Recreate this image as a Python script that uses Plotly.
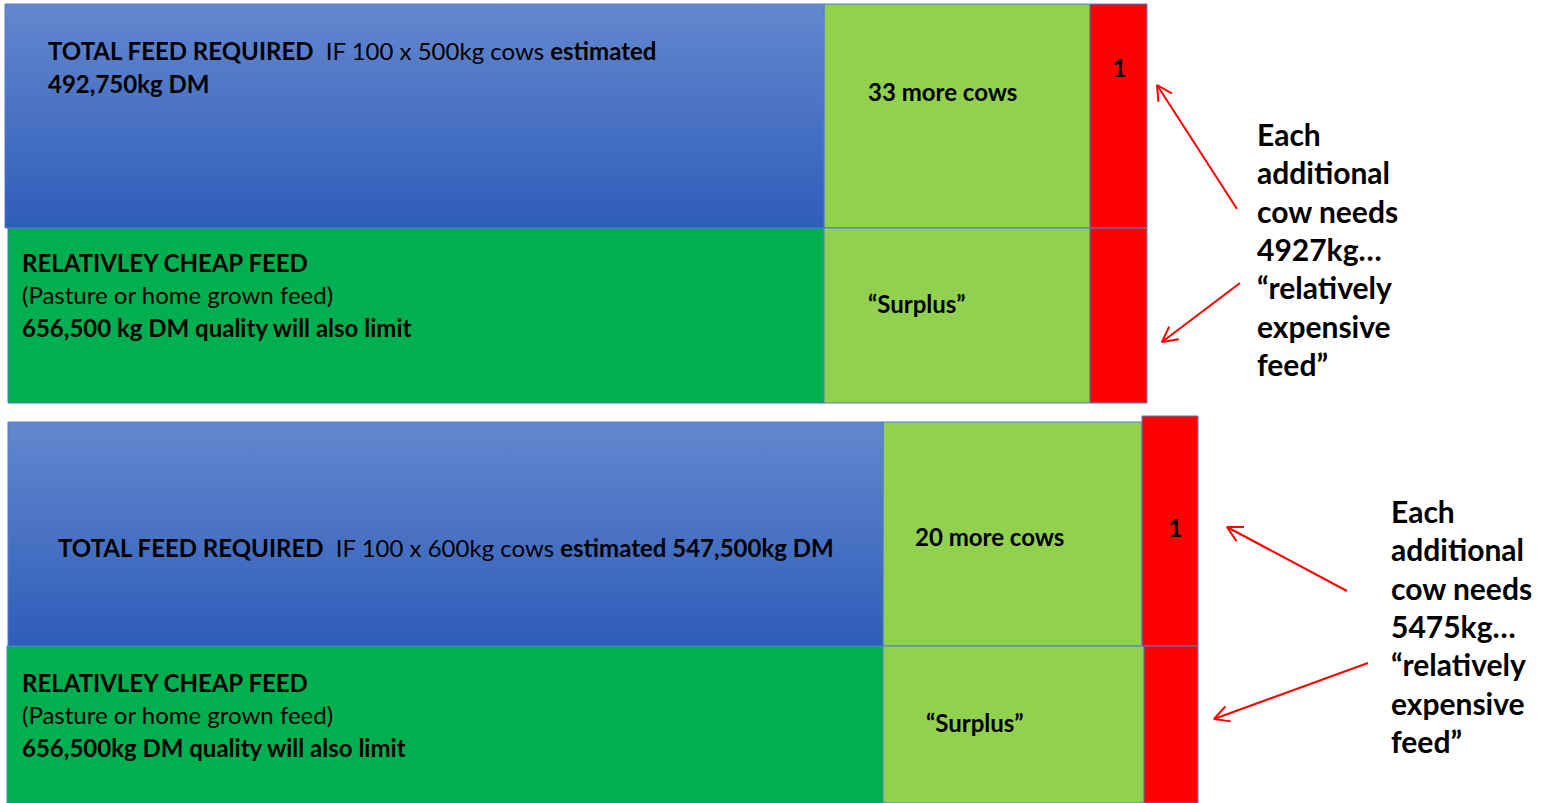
import numpy as np
import plotly.graph_objects as go

# ---------------- data ----------------
row_names = ["500kg: total feed required", "500kg: relatively cheap feed",
             "600kg: total feed required", "600kg: relatively cheap feed"]
main_len = [819, 816, 875, 876]        # blue / green segment lengths
surplus_len = [266, 266, 259, 261]     # light-green "surplus" segment lengths
extra_len = [57, 57, 56, 54]           # red "relatively expensive" segment lengths

main_text = [
    ["<b>TOTAL FEED REQUIRED</b>\u00a0 IF 100 x 500kg cows <b>estimated</b>", "<b>492,750kg DM</b>"],
    ["<b>RELATIVLEY CHEAP FEED</b>", "(Pasture or home grown feed)", "<b>656,500 kg DM quality will also limit</b>"],
    ["<b>TOTAL FEED REQUIRED</b>\u00a0 IF 100 x 600kg cows <b>estimated 547,500kg DM</b>"],
    ["<b>RELATIVLEY CHEAP FEED</b>", "(Pasture or home grown feed)", "<b>656,500kg DM quality will also limit</b>"],
]
surplus_text = ["<b>33 more cows</b>", "<b>\u201cSurplus\u201d</b>", "<b>20 more cows</b>", "<b>\u201cSurplus\u201d</b>"]
extra_text = ["<b>1</b>", "", "<b>1</b>", ""]
side_text = [
    ["Each", "additional", "cow needs", "4927kg\u2026", "\u201crelatively", "expensive", "feed\u201d"],
    ["Each", "additional", "cow needs", "5475kg\u2026", "\u201crelatively", "expensive", "feed\u201d"],
]

# ---------------- layout geometry ----------------
W, H = 1546, 803
row_start = [5, 8, 8, 7]
row_top = [4, 228, 422, 646]
row_bot = [228, 403, 646, 803]
extra_top = [4, 228, 416, 646]
is_total = [True, False, True, False]

BLUE_TOP, BLUE_BOT = "#6487CF", "#2E5DB8"
GREEN = "#00B050"
LIGHT = "#92D050"
RED = "#FF0000"
EDGE = "#4F7FCC"
FONT = "Lato"

fig = go.Figure()

# blue gradient "total feed" rows
for i in range(4):
    if not is_total[i]:
        continue
    x0, x1 = row_start[i], row_start[i] + main_len[i]
    y0, y1 = row_top[i], row_bot[i]
    fig.add_trace(go.Scatter(
        x=[x0, x1, x1, x0, x0], y=[y0, y0, y1, y1, y0], mode="lines",
        fill="toself", line=dict(color=EDGE, width=1),
        fillgradient=dict(type="vertical", start=y0, stop=y1,
                          colorscale=[[0, BLUE_TOP], [1, BLUE_BOT]]),
        hoverinfo="skip", showlegend=False))

# green "cheap feed" rows
cheap = [i for i in range(4) if not is_total[i]]
fig.add_trace(go.Bar(
    orientation="h",
    y=[(row_top[i] + row_bot[i]) / 2 for i in cheap],
    width=[row_bot[i] - row_top[i] for i in cheap],
    base=[row_start[i] for i in cheap],
    x=[main_len[i] for i in cheap],
    marker=dict(color=GREEN, line=dict(color=EDGE, width=1)),
    hoverinfo="skip", showlegend=False))

# surplus segments
fig.add_trace(go.Bar(
    orientation="h",
    y=[(row_top[i] + row_bot[i]) / 2 for i in range(4)],
    width=[row_bot[i] - row_top[i] for i in range(4)],
    base=[row_start[i] + main_len[i] for i in range(4)],
    x=surplus_len,
    marker=dict(color=LIGHT, line=dict(color=EDGE, width=1)),
    hoverinfo="skip", showlegend=False))

# red extra segments
fig.add_trace(go.Bar(
    orientation="h",
    y=[(extra_top[i] + row_bot[i]) / 2 for i in range(4)],
    width=[row_bot[i] - extra_top[i] for i in range(4)],
    base=[row_start[i] + main_len[i] + surplus_len[i] for i in range(4)],
    x=extra_len,
    marker=dict(color=RED, line=dict(color=EDGE, width=1)),
    hoverinfo="skip", showlegend=False))

annotations = []

def add_text(x, y, text, size, anchor="left"):
    annotations.append(dict(x=x, y=y, xref="x", yref="y", text=text, showarrow=False,
                            xanchor=anchor, yanchor="middle",
                            font=dict(family=FONT, size=size, color="black")))

# main segment text
main_pos = [(46, 50, 33), (20, 262, 32.5), (56, 547, 0), (20, 682, 32.5)]
for i in range(4):
    x, y, dy = main_pos[i]
    for k, line in enumerate(main_text[i]):
        add_text(x, y + k * dy, line, 24)

# surplus text
surplus_pos = [(866, 91), (866, 303), (913, 536), (924, 722)]
for i in range(4):
    add_text(surplus_pos[i][0], surplus_pos[i][1], surplus_text[i], 24)

# red text
extra_pos = [(1119, 67), (0, 0), (1175, 527), (0, 0)]
for i in range(4):
    if extra_text[i]:
        add_text(extra_pos[i][0], extra_pos[i][1], extra_text[i], 25, "center")

# side notes
side_pos = [(1255, 134), (1389, 511)]
for j in range(2):
    x, y = side_pos[j]
    for k, line in enumerate(side_text[j]):
        add_text(x, y + k * 38.3, "<b>" + line + "</b>", 30)

# arrows (tail -> tip), drawn as shaft + open V head
arrows = [((1237, 209), (1157, 85)), ((1240, 283), (1162, 342)),
          ((1347, 591), (1227, 527)), ((1368, 663), (1214, 719))]
for (tx, ty), (hx, hy) in arrows:
    ang = np.arctan2(ty - hy, tx - hx)
    L, spread = 17, np.radians(28)
    p1 = (hx + L * np.cos(ang + spread), hy + L * np.sin(ang + spread))
    p2 = (hx + L * np.cos(ang - spread), hy + L * np.sin(ang - spread))
    fig.add_trace(go.Scatter(
        x=[tx, hx, None, p1[0], hx, p2[0]], y=[ty, hy, None, p1[1], hy, p2[1]],
        mode="lines", line=dict(color=RED, width=2), hoverinfo="skip", showlegend=False))

fig.update_layout(
    width=W, height=H, margin=dict(l=0, r=0, t=0, b=0),
    paper_bgcolor="white", plot_bgcolor="white",
    barmode="overlay", showlegend=False,
    xaxis=dict(range=[0, W], visible=False, fixedrange=True),
    yaxis=dict(range=[H, 0], visible=False, fixedrange=True),
    annotations=annotations,
)

fig.write_html("out.html")
